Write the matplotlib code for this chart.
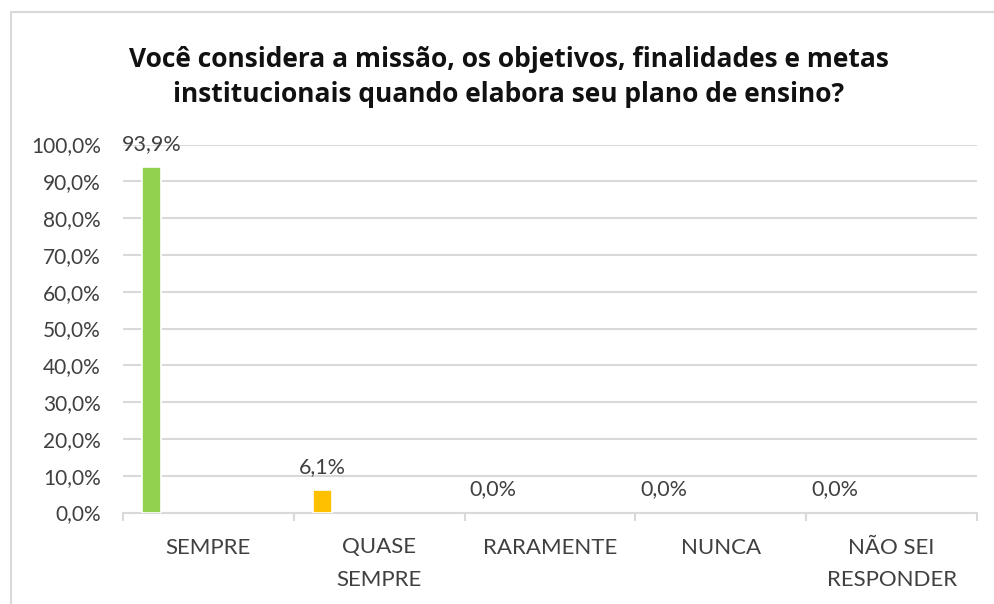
import matplotlib.pyplot as plt
from matplotlib.patches import Rectangle
from matplotlib.ticker import FixedLocator

plt.rcParams['font.family'] = ['Lato', 'DejaVu Sans']

categorias = ['SEMPRE', 'QUASE\nSEMPRE', 'RARAMENTE', 'NUNCA', 'NÃO SEI\nRESPONDER']
valores = [93.9, 6.1, 0.0, 0.0, 0.0]
rotulos = ['93,9%', '6,1%', '0,0%', '0,0%', '0,0%']
cores = ['#92D050', '#FFC000', '#FF0000', '#5B9BD5', '#A5A5A5']
ticks_y = [0, 10, 20, 30, 40, 50, 60, 70, 80, 90, 100]

titulo = ('Você considera a missão, os objetivos, finalidades e metas\n'
          'institucionais quando elabora seu plano de ensino?')

fig = plt.figure(figsize=(9.94, 6.04), dpi=100)
ax = fig.add_axes([123 / 994, 1 - 512.5 / 604, (977 - 123) / 994, (512.5 - 144.5) / 604])

# moldura do gráfico (cortada à direita e embaixo)
fig.patches.append(Rectangle((11 / 994, -0.1), 1.2, 1 - 12 / 604 + 0.1,
                             transform=fig.transFigure, fill=False,
                             edgecolor='#D9D9D9', linewidth=1.5))

desloc = -0.333
x = [i + desloc for i in range(len(categorias))]
bordas = [1.2 if v > 0 else 0 for v in valores]
ax.bar(x, valores, width=0.115, color=cores, edgecolor='white', linewidth=bordas, zorder=3)

for xi, v, r in zip(x, valores, rotulos):
    ax.annotate(r, (xi, v), xytext=(0, 9.5), textcoords='offset points',
                ha='center', va='bottom', fontsize=15.5, color='#404040')

ax.set_xlim(-0.5, len(categorias) - 0.5)
ax.set_ylim(0, 100)
ax.set_yticks(ticks_y)
ax.set_yticklabels([f'{t:.1f}%'.replace('.', ',') for t in ticks_y])
ax.set_xticks(range(len(categorias)))
ax.set_xticklabels(categorias, linespacing=1.75)
ax.xaxis.set_minor_locator(FixedLocator([i - 0.5 for i in range(len(categorias) + 1)]))

ax.tick_params(axis='y', length=0, pad=16, labelsize=15, labelcolor='#404040')
ax.tick_params(axis='x', which='major', length=0, pad=18, labelsize=16, labelcolor='#404040')
ax.tick_params(axis='x', which='minor', length=6, width=1.5, color='#D9D9D9')

ax.yaxis.grid(True, color='#D9D9D9', linewidth=1.5, zorder=0)
ax.set_axisbelow(True)
for s in ['top', 'right', 'left']:
    ax.spines[s].set_visible(False)
ax.spines['bottom'].set_color('#D9D9D9')
ax.spines['bottom'].set_linewidth(1.5)

fig.text(509 / 994, 1 - 77 / 604, titulo, ha='center', va='center',
         fontsize=19, fontweight='bold', color='#111111', linespacing=1.42,
         family=['Open Sans', 'DejaVu Sans'])

fig.savefig('out.png', dpi=100)
